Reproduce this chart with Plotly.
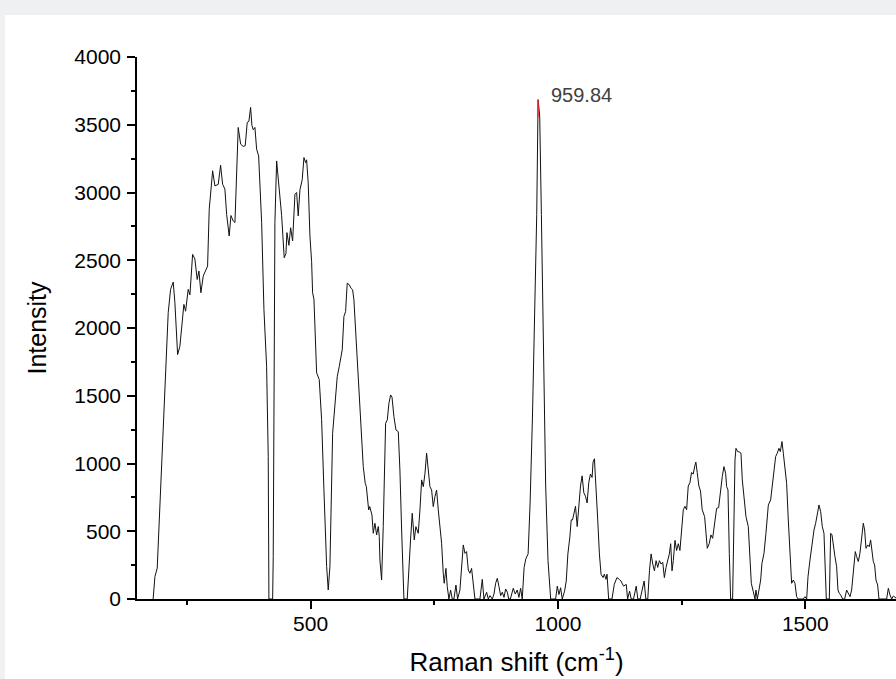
import plotly.graph_objects as go

# Raman spectrum (x: Raman shift in cm^-1, y: intensity)
shift = [
    181.6, 185.2, 189.9, 195.3, 202.0, 207.4, 212.1, 216.9, 222.2, 225.6, 231.1, 235.7,
    240.4, 243.8, 247.3, 252.5, 256.0, 261.4, 266.0, 270.7, 274.2, 278.2, 282.9, 287.7,
    291.7, 295.0, 301.9, 306.5, 313.2, 318.0, 322.1, 326.7, 330.2, 335.4, 338.9, 343.5,
    347.0, 353.6, 358.5, 363.7, 367.8, 371.8, 375.2, 378.7, 381.3, 384.0, 387.4, 390.8,
    394.9, 401.0, 405.6, 411.0, 414.3, 415.7, 423.2, 424.4, 426.4, 427.8, 431.3, 436.5,
    441.4, 446.6, 450.1, 452.1, 456.1, 459.6, 463.6, 468.3, 471.7, 474.9, 478.4, 483.0,
    486.5, 489.9, 491.9, 495.1, 498.6, 502.0, 504.0, 506.7, 512.1, 517.4, 522.2, 526.9,
    532.4, 535.6, 539.0, 544.5, 549.1, 553.8, 557.8, 563.9, 567.3, 570.7, 574.0, 578.0,
    581.5, 584.9, 587.5, 591.6, 596.3, 601.1, 606.4, 610.4, 612.7, 617.3, 619.5, 624.0,
    626.6, 630.0, 633.4, 636.8, 638.8, 640.1, 643.5, 646.8, 648.8, 651.6, 655.0, 658.3,
    661.7, 664.5, 668.4, 672.5, 677.2, 680.5, 684.0, 688.6, 695.3, 699.4, 702.0, 705.4,
    709.5, 712.8, 717.6, 721.0, 724.4, 727.8, 731.2, 734.5, 737.9, 741.2, 744.6, 747.9,
    751.3, 754.7, 758.1, 761.4, 764.8, 768.1, 770.1, 773.5, 776.2, 779.6, 783.0, 786.3,
    789.7, 793.8, 797.1, 801.8, 805.2, 808.6, 812.0, 815.3, 818.7, 822.1, 825.4, 828.8,
    832.2, 842.3, 847.0, 850.4, 855.8, 859.2, 862.6, 867.3, 870.7, 874.0, 877.4, 880.8,
    884.2, 887.5, 890.9, 894.3, 897.7, 900.4, 903.8, 909.6, 913.7, 917.7, 921.1, 924.5,
    927.8, 931.6, 935.0, 939.7, 943.7, 948.4, 953.1, 957.1, 959.84, 963.1, 966.5, 970.5,
    975.2, 979.9, 985.3, 995.3, 998.7, 1002.0, 1005.4, 1008.7, 1013.4, 1016.8, 1020.1, 1024.1,
    1026.8, 1029.5, 1032.2, 1035.5, 1038.9, 1042.2, 1045.6, 1048.9, 1052.3, 1055.6, 1059.0, 1062.3,
    1065.7, 1069.0, 1071.0, 1073.7, 1077.1, 1080.4, 1083.8, 1087.1, 1091.2, 1093.8, 1097.2, 1099.2,
    1102.5, 1109.2, 1113.9, 1119.3, 1124.0, 1127.3, 1132.7, 1138.1, 1140.8, 1144.8, 1148.1, 1152.8,
    1158.2, 1161.5, 1166.2, 1170.9, 1174.3, 1177.6, 1181.6, 1185.0, 1188.3, 1191.7, 1195.0, 1198.4,
    1201.7, 1205.1, 1208.4, 1211.8, 1215.1, 1218.5, 1221.8, 1225.2, 1227.9, 1230.6, 1233.2, 1236.6,
    1239.9, 1243.3, 1246.6, 1250.0, 1253.4, 1256.7, 1260.1, 1263.4, 1266.8, 1270.1, 1273.5, 1276.8,
    1278.8, 1281.5, 1284.9, 1288.2, 1291.6, 1296.5, 1299.2, 1301.9, 1306.0, 1309.3, 1312.7, 1316.8,
    1320.8, 1324.8, 1328.9, 1332.2, 1335.6, 1339.0, 1341.0, 1343.7, 1346.4, 1349.1, 1353.1, 1355.8,
    1357.9, 1359.9, 1363.3, 1366.6, 1370.0, 1372.7, 1376.1, 1380.1, 1384.8, 1388.2, 1390.9, 1394.9,
    1398.3, 1400.3, 1403.0, 1406.4, 1409.8, 1412.4, 1416.5, 1420.5, 1425.3, 1430.0, 1433.3, 1436.7,
    1440.1, 1443.4, 1446.8, 1449.5, 1452.9, 1455.6, 1458.9, 1462.3, 1465.7, 1469.0, 1472.4, 1475.8,
    1479.2, 1482.5, 1485.9, 1496.0, 1499.4, 1502.8, 1505.5, 1509.5, 1513.5, 1517.6, 1521.0, 1524.3,
    1527.7, 1531.1, 1534.4, 1537.8, 1540.5, 1542.5, 1548.6, 1551.3, 1554.0, 1556.7, 1560.0, 1563.4,
    1566.1, 1568.8, 1571.5, 1575.5, 1579.6, 1583.6, 1587.0, 1590.4, 1593.7, 1597.1, 1601.1, 1603.8,
    1607.2, 1610.5, 1614.0, 1617.3, 1620.0, 1622.7, 1626.1, 1629.4, 1632.1, 1634.8, 1637.5, 1640.2,
    1642.9, 1646.3, 1649.0, 1664.5, 1667.9, 1671.2, 1674.6, 1678.0, 1681.4, 1686.0,
]

intensity = [
    0, 165, 228, 683, 1300, 1745, 2113, 2285, 2339, 2188, 1804, 1865,
    2063, 2174, 2124, 2285, 2245, 2543, 2510, 2358, 2420, 2260, 2383, 2430,
    2457, 2876, 3160, 3049, 3060, 3201, 3061, 3025, 2839, 2679, 2830, 2790,
    2778, 3480, 3357, 3340, 3345, 3517, 3525, 3628, 3495, 3463, 3480, 3320,
    3270, 2778, 2137, 1718, 1052, 0, 0, 313, 1545, 2780, 3233, 3024,
    2830, 2519, 2550, 2704, 2610, 2740, 2642, 2987, 3000, 2827, 3020, 3095,
    3258, 3220, 3241, 3073, 2679, 2490, 2260, 2213, 1669, 1620, 1323, 806,
    239, 67, 240, 1223, 1469, 1641, 1715, 1839, 2085, 2122, 2331, 2320,
    2294, 2282, 2208, 1937, 1568, 1297, 977, 854, 829, 657, 682, 620,
    485, 559, 473, 535, 460, 288, 140, 534, 952, 1297, 1322, 1445,
    1506, 1490, 1346, 1248, 1235, 952, 509, 0, 0, 337, 435, 633,
    436, 534, 485, 657, 879, 829, 928, 1076, 952, 829, 804, 682,
    755, 804, 657, 509, 411, 190, 116, 226, 91, 0, 66, 0,
    0, 103, 0, 66, 263, 399, 337, 350, 214, 190, 226, 116,
    0, 0, 145, 0, 50, 0, 25, 0, 37, 116, 153, 91,
    25, 50, 12, 74, 50, 0, 0, 79, 37, 66, 12, 79,
    0, 233, 296, 333, 709, 1335, 2087, 2838, 3685, 3565, 2838, 1836,
    834, 283, 0, 0, 95, 33, 83, 0, 58, 133, 333, 458,
    584, 584, 634, 684, 534, 709, 834, 909, 784, 759, 709, 859,
    922, 897, 1010, 1035, 834, 584, 333, 183, 158, 183, 145, 183,
    0, 0, 108, 158, 145, 133, 95, 108, 0, 58, 0, 0,
    95, 0, 0, 83, 133, 0, 0, 208, 333, 258, 208, 283,
    233, 283, 258, 271, 158, 233, 283, 333, 408, 208, 283, 433,
    358, 408, 358, 483, 659, 684, 659, 834, 859, 934, 922, 984,
    1010, 934, 834, 797, 659, 608, 485, 374, 411, 473, 448, 583,
    669, 674, 829, 903, 977, 928, 829, 805, 337, 0, 0, 583,
    1026, 1112, 1088, 1085, 1076, 879, 731, 608, 534, 337, 116, 54,
    0, 66, 0, 66, 140, 263, 337, 485, 694, 731, 829, 953,
    1051, 1076, 1112, 1088, 1162, 1076, 977, 854, 583, 337, 116, 140,
    116, 17, 0, 0, 17, 0, 165, 288, 411, 509, 559, 633,
    694, 645, 534, 485, 214, 0, 0, 485, 473, 386, 313, 239,
    66, 42, 30, 0, 0, 66, 42, 17, 66, 214, 350, 313,
    276, 337, 473, 559, 509, 374, 399, 386, 436, 362, 276, 251,
    140, 103, 0, 0, 79, 30, 0, 22, 12, 0,
]

x_ticks = [500, 1000, 1500]
y_ticks = [0, 500, 1000, 1500, 2000, 2500, 3000, 3500, 4000]
x_range = [149, 1683.4]
y_range = [0, 4000]

# peak label taken from the data maximum
peak_i = max(range(len(intensity)), key=lambda i: intensity[i])
peak_x = shift[peak_i]
peak_y = intensity[peak_i]

FONT = "Liberation Sans, Arial, sans-serif"

fig = go.Figure()
fig.add_trace(go.Scatter(
    x=shift, y=intensity, mode="lines",
    line=dict(color="#111111", width=1),
    hoverinfo="x+y", showlegend=False,
))
# red peak marker at the top of the strongest band
fig.add_trace(go.Scatter(
    x=[peak_x, peak_x], y=[peak_y - 130, peak_y], mode="lines",
    line=dict(color="#ff2a2a", width=1.3),
    hoverinfo="skip", showlegend=False,
))

fig.add_annotation(
    x=peak_x, y=peak_y, text=f"{peak_x:.2f}", showarrow=False,
    xanchor="left", yanchor="middle", xshift=11, yshift=5,
    font=dict(family=FONT, size=20, color="#404040"),
)

# white card on a light grey page
fig.add_shape(
    type="rect", xref="paper", yref="paper",
    x0=-0.174, x1=1.05, y0=-0.3, y1=1.0775,
    fillcolor="white", line=dict(width=0), layer="below",
)

axis_common = dict(
    showline=True, linecolor="black", linewidth=1.5,
    ticks="outside", ticklen=8, tickwidth=1.5, tickcolor="black",
    showgrid=False, zeroline=False,
    tickfont=dict(family=FONT, size=21, color="black"),
)

fig.update_xaxes(
    range=x_range, tickvals=x_ticks, ticktext=[str(v) for v in x_ticks],
    minor=dict(ticks="outside", ticklen=4, tickwidth=1.5, tickcolor="black",
               tick0=250, dtick=500, showgrid=False),
    title=dict(text="Raman shift (cm<sup>-1</sup>)", standoff=19,
               font=dict(family=FONT, size=26, color="black")),
    ticklabelstandoff=-3,
    **axis_common,
)
fig.update_yaxes(
    range=y_range, tickvals=y_ticks, ticktext=[str(v) for v in y_ticks],
    minor=dict(ticks="outside", ticklen=4, tickwidth=1.5, tickcolor="black",
               tick0=250, dtick=500, showgrid=False),
    title=dict(text="Intensity", standoff=21,
               font=dict(family=FONT, size=25, color="black")),
    ticklabelstandoff=2,
    **axis_common,
)

fig.update_layout(
    width=896, height=679,
    margin=dict(l=137, r=0, t=57, b=80, autoexpand=False),
    paper_bgcolor="#eef0f2", plot_bgcolor="white",
    font=dict(family=FONT),
    showlegend=False,
)

fig.write_html(
    "out.html",
    config={"displayModeBar": False},
    post_script="document.body.style.margin='0';document.body.style.overflow='hidden';",
)
